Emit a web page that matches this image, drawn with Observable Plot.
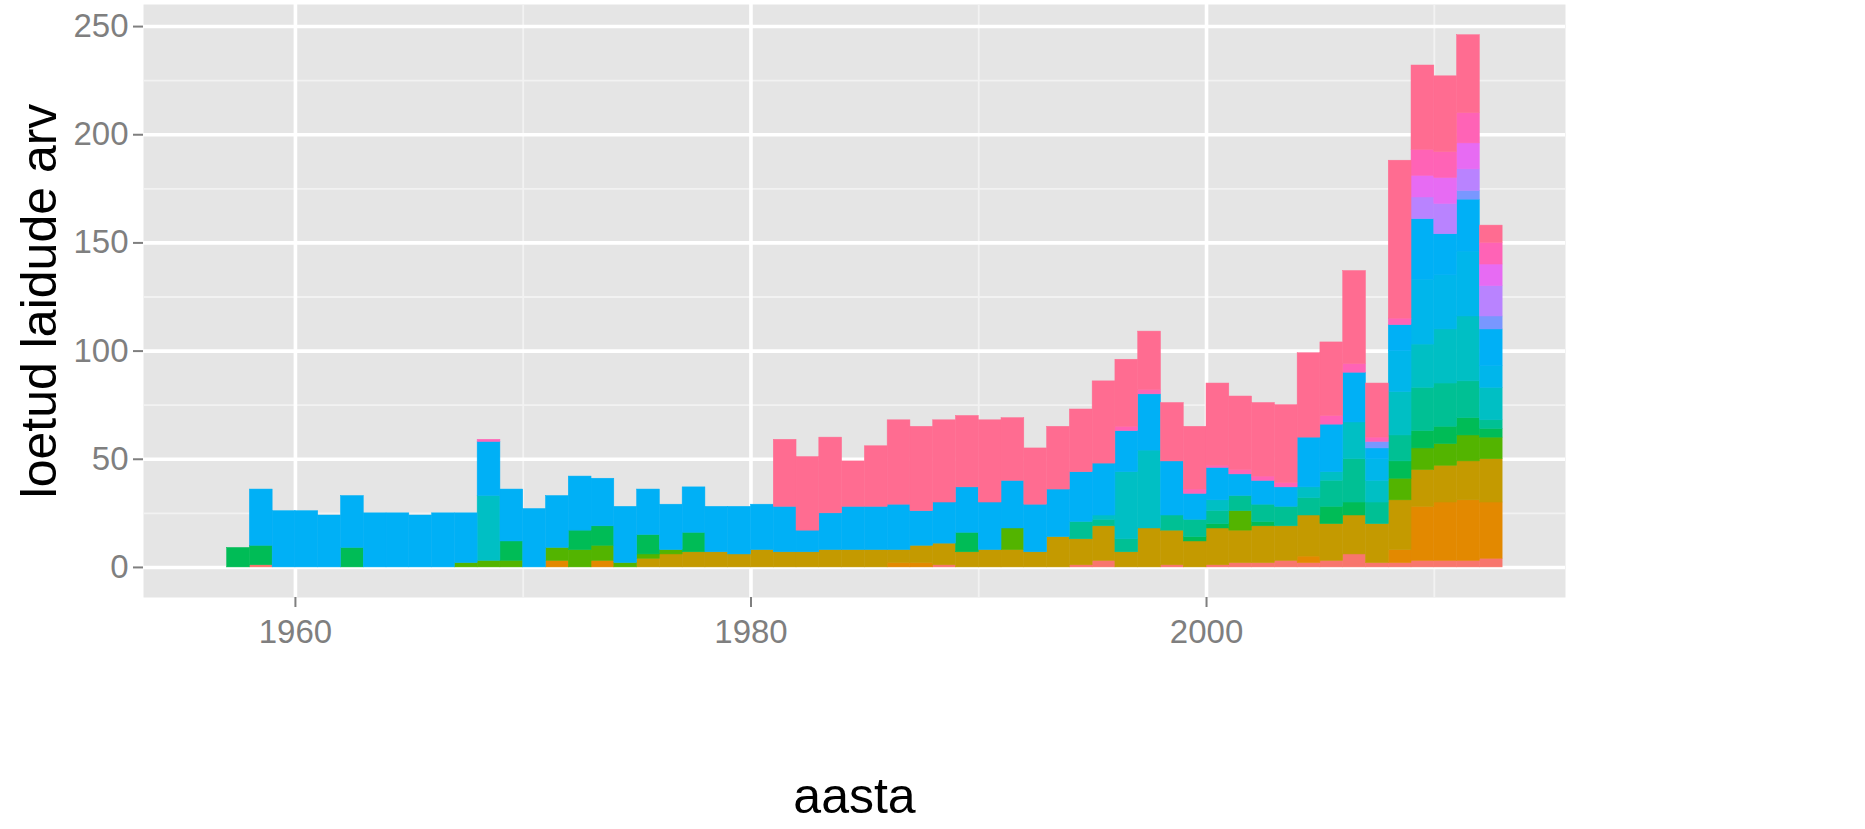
<!DOCTYPE html>
<html>
<head>
<meta charset="utf-8">
<script src="https://cdn.jsdelivr.net/npm/d3@7"></script>
<script src="https://cdn.jsdelivr.net/npm/@observablehq/plot@0.6"></script>
<style>
  html, body { margin: 0; padding: 0; background: white; }
</style>
</head>
<body>
<div id="chart"></div>
<script>
// Years 1957..2012 (one bin per year)
const years = d3.range(1957, 2013);

// Categories in stacking order (bottom -> top) and their colours
const categories = ["k01","k02","k03","k04","k05","k06","k07","k08","k09","k10","k11","k12","k13","k14"];
const colors = ["#F8766D","#E38900","#C49A00","#53B400","#00BC56","#00C094","#00BFC4","#00B6EB","#00B0F6","#7997FF","#B983FF","#E76BF3","#FF63B6","#FF6C91"];

// Series values per category (index 0 = 1957 ... 55 = 2012)
const k01 = [0,1,0,0,0,0,0,0,0,0, 0,0,0,0,0,0,0,0,0,0, 0,0,0,0,0,0,0,0,0,0, 0,1,0,0,0,0,0,1,3,0, 0,1,0,1,2,2,3,2,3,6, 2,2,3,3,3,4];
const k02 = [0,0,0,0,0,0,0,0,0,0, 0,0,0,0,3,0,3,0,0,0, 0,0,0,0,0,0,0,0,0,2, 2,0,0,0,0,0,0,0,0,0, 0,0,0,0,0,0,0,3,0,0, 0,6,25,27,28,26];
const k03 = [0,0,0,0,0,0,0,0,0,0, 0,0,0,0,0,0,0,0,4,6, 7,7,6,8,7,7,8,8,8,6, 8,10,7,8,8,7,14,12,16,7, 18,16,12,17,15,17,16,19,17,18, 18,23,17,17,18,20];
const k04 = [0,0,0,0,0,0,0,0,0,0, 2,3,3,0,6,8,7,2,2,2, 0,0,0,0,0,0,0,0,0,0, 0,0,0,0,10,0,0,0,0,0, 0,0,0,0,9,0,0,0,0,0, 0,10,10,10,12,10];
const k05 = [9,9,0,0,0,9,0,0,0,0, 0,0,9,0,0,9,9,0,9,0, 9,0,0,0,0,0,0,0,0,0, 0,0,9,0,0,0,0,0,0,0, 0,0,2,2,0,2,0,0,8,6, 0,8,8,8,8,4];
const k06 = [0,0,0,0,0,0,0,0,0,0, 0,0,0,0,0,0,0,0,0,0, 0,0,0,0,0,0,0,0,0,0, 0,0,0,0,0,0,0,8,3,6, 0,7,8,6,7,8,9,8,12,20, 10,12,20,20,17,4];
const k07 = [0,0,0,0,0,0,0,0,0,0, 0,30,0,0,0,0,0,0,0,0, 0,0,0,0,0,0,0,0,0,0, 0,0,0,0,0,0,0,0,2,31, 36,0,0,5,0,0,0,5,4,17, 10,20,20,25,30,15];
const k08 = [0,0,0,0,0,0,0,0,0,0, 0,0,0,0,0,0,0,0,0,0, 0,0,0,0,0,0,0,0,0,0, 0,0,0,0,0,0,0,0,0,0, 0,0,0,0,0,0,0,0,0,0, 10,19,30,25,30,10];
const k09 = [0,26,26,26,24,24,25,25,24,25, 23,25,24,27,24,25,22,26,21,21, 21,21,22,21,21,10,17,20,20,21, 16,19,21,22,22,22,22,23,24,19, 26,25,12,15,10,11,9,23,22,23, 5,12,28,19,24,17];
const k10 = [0,0,0,0,0,0,0,0,0,0, 0,0,0,0,0,0,0,0,0,0, 0,0,0,0,0,0,0,0,0,0, 0,0,0,0,0,0,0,0,0,0, 0,0,0,0,0,0,0,0,0,0, 3,0,0,0,4,6];
const k11 = [0,0,0,0,0,0,0,0,0,0, 0,0,0,0,0,0,0,0,0,0, 0,0,0,0,0,0,0,0,0,0, 0,0,0,0,0,0,0,0,0,0, 0,0,0,0,0,0,0,0,0,0, 0,0,10,14,10,14];
const k12 = [0,0,0,0,0,0,0,0,0,0, 0,0,0,0,0,0,0,0,0,0, 0,0,0,0,0,0,0,0,0,0, 0,0,0,0,0,0,0,0,0,0, 0,0,0,0,0,0,0,0,0,0, 0,0,10,12,12,10];
const k13 = [0,0,0,0,0,0,0,0,0,0, 0,1,0,0,0,0,0,0,0,0, 0,0,0,0,0,0,0,0,0,0, 0,0,0,0,0,0,0,0,0,2, 2,0,2,1,2,2,2,0,4,4, 2,3,12,12,14,10];
const k14 = [0,0,0,0,0,0,0,0,0,0, 0,0,0,0,0,0,0,0,0,0, 0,0,0,0,31,34,35,21,28,39, 39,38,33,38,29,26,29,29,38,31, 27,27,29,38,34,34,36,39,34,43, 25,73,39,35,36,8];

const series = [k01,k02,k03,k04,k05,k06,k07,k08,k09,k10,k11,k12,k13,k14];

// Axis ticks
const yTicks = [0, 50, 100, 150, 200, 250];
const yMinor = [25, 75, 125, 175, 225];
const xTicks = [1960, 1980, 2000];
const xMinor = [1970, 1990, 2010];

// Long table for the stacked histogram
const rows = [];
categories.forEach((c, ci) => {
  series[ci].forEach((v, i) => {
    if (v > 0) rows.push({year: years[i], cat: c, n: v});
  });
});

const font = "'Liberation Sans', Arial, Helvetica, sans-serif";

const chart = Plot.plot({
  width: 1865,
  height: 829,
  marginLeft: 143,
  marginRight: 300,
  marginTop: 4,
  marginBottom: 232,
  style: {fontFamily: font, background: "white", overflow: "visible"},
  x: {domain: [1953.33, 2015.76]},
  y: {domain: [-13.9, 260.2]},
  color: {domain: categories, range: colors},
  marks: [
    Plot.frame({fill: "#E5E5E5", stroke: null}),
    Plot.gridY(yMinor, {stroke: "#F2F2F2", strokeOpacity: 1, strokeWidth: 1.8}),
    Plot.gridX(xMinor, {stroke: "#F2F2F2", strokeOpacity: 1, strokeWidth: 1.8}),
    Plot.gridY(yTicks, {stroke: "white", strokeOpacity: 1, strokeWidth: 3.6}),
    Plot.gridX(xTicks, {stroke: "white", strokeOpacity: 1, strokeWidth: 3.6}),
    Plot.rectY(rows, {
      x1: "year",
      x2: d => d.year + 1,
      y: "n",
      fill: "cat",
      stroke: "cat",
      strokeWidth: 0.5
    }),
    Plot.axisY(yTicks, {
      tickSize: 10, tickPadding: 5, color: "#7F7F7F", strokeWidth: 2,
      fontSize: 33, label: null, tickFormat: d => String(d)
    }),
    Plot.axisX(xTicks, {
      tickSize: 10, tickPadding: 12, color: "#7F7F7F", strokeWidth: 2,
      fontSize: 33, label: null, tickFormat: d => String(d)
    }),
    Plot.text(["aasta"], {
      text: d => d, frameAnchor: "bottom", textAnchor: "middle",
      dy: 215, fontSize: 50, fill: "black"
    }),
    Plot.text(["loetud laidude arv"], {
      text: d => d, frameAnchor: "left", textAnchor: "middle",
      dx: -104, rotate: -90, fontSize: 50, fill: "black"
    })
  ]
});

document.getElementById("chart").appendChild(chart);
</script>
</body>
</html>
